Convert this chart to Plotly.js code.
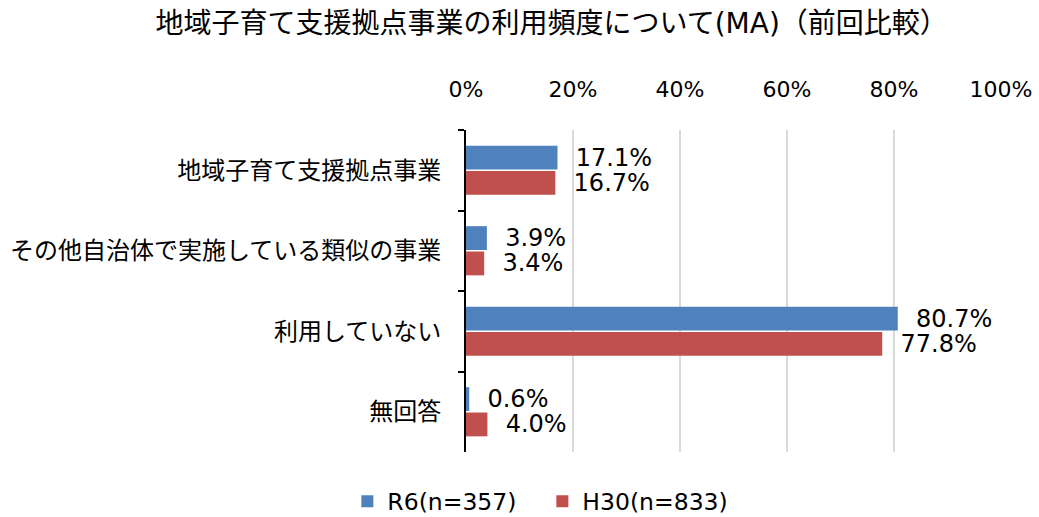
<!DOCTYPE html>
<html>
<head>
<meta charset="utf-8">
<script src="https://cdn.plot.ly/plotly-3.0.1.min.js"></script>
<style>html,body{margin:0;padding:0;background:#fff;}#chart{width:1039px;height:517px;}</style>
</head>
<body>
<div id="chart"></div>
<script>
const categories = ['地域子育て支援拠点事業', 'その他自治体で実施している類似の事業', '利用していない', '無回答'];
const seriesNames = ['R6(n=357)', 'H30(n=833)'];
const r6Values = [17.1, 3.9, 80.7, 0.6];
const h30Values = [16.7, 3.4, 77.8, 4.0];
const xTickValues = [0, 20, 40, 60, 80, 100];
const xTickLabels = ['0%', '20%', '40%', '60%', '80%', '100%'];

const FONT = '"DejaVu Sans", "Noto Sans CJK JP", sans-serif';
const colors = ['#4F81BD', '#C0504D'];

function mk(name, vals, color) {
  return {
    type: 'bar', orientation: 'h', name: name,
    y: categories, x: vals,
    marker: {color: color},
    text: vals.map(v => '\u00a0\u00a0' + v.toFixed(1) + '%'),
    textposition: 'outside', cliponaxis: false, constraintext: 'none',
    textfont: {family: FONT, size: 24, color: '#000'},
    hoverinfo: 'skip'
  };
}

const data = [mk(seriesNames[0], r6Values, colors[0]), mk(seriesNames[1], h30Values, colors[1])];

const layout = {
  width: 1039, height: 517,
  margin: {l: 466, r: 38, t: 130, b: 65},
  paper_bgcolor: '#fff', plot_bgcolor: '#fff',
  font: {family: FONT, size: 22, color: '#000'},
  title: {text: '地域子育て支援拠点事業の利用頻度について(MA)（前回比較）', x: 0.531, xanchor: 'center', y: 0.955, yanchor: 'middle', font: {family: FONT, size: 28, color: '#000'}},
  barmode: 'group', bargap: 0.37, bargroupgap: 0.06,
  xaxis: {
    side: 'top', range: [0, 100], tickvals: xTickValues, ticktext: xTickLabels,
    showgrid: true, gridcolor: '#d9d9d9', gridwidth: 2, zeroline: false,
    showline: false, ticks: '', ticklabelstandoff: 28,
    tickfont: {family: FONT, size: 22, color: '#000'}, fixedrange: true
  },
  yaxis: {
    type: 'category', autorange: 'reversed', showline: true, linecolor: '#000', linewidth: 2,
    ticks: 'outside', tickson: 'boundaries', ticklen: 6, tickwidth: 2, tickcolor: '#000',
    ticklabelstandoff: 18,
    showgrid: false, zeroline: false, tickfont: {family: FONT, size: 24, color: '#000'}, fixedrange: true
  },
  legend: {orientation: 'h', x: 0.522, xanchor: 'center', xref: 'container', y: 0.03, yref: 'container', yanchor: 'middle', font: {family: FONT, size: 23.5, color: '#000'}, itemwidth: 30, entrywidth: 150, entrywidthmode: 'pixels', traceorder: 'normal'},
  showlegend: true
};

Plotly.newPlot('chart', data, layout, {displayModeBar: false, staticPlot: true});
</script>
</body>
</html>
